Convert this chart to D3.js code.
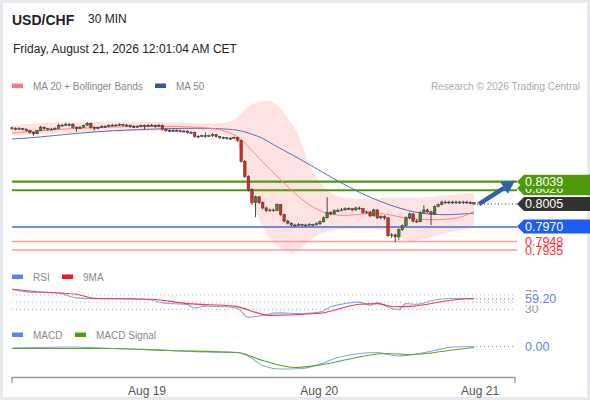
<!DOCTYPE html>
<html lang="en">
<head>
<meta charset="utf-8">
<title>USD/CHF 30 MIN</title>
<style>
  body { margin: 0; background: #fff; }
  svg { display: block; font-family: 'Liberation Sans', Arial, sans-serif; }
</style>
</head>
<body>
<div id="chart"></div>
<script src="https://d3js.org/d3.v7.min.js"></script>
<script>
// ---- candles (30 min) ----
var opens = [
  0.8121,0.8120,0.8119,0.8120,0.8119,0.8117,0.8114,0.8112,0.8117,0.8122,
  0.8120,0.8119,0.8119,0.8120,0.8125,0.8125,0.8126,0.8126,0.8122,0.8120,
  0.8122,0.8125,0.8128,0.8122,0.8120,0.8122,0.8123,0.8123,0.8125,0.8125,
  0.8125,0.8126,0.8125,0.8125,0.8123,0.8123,0.8123,0.8125,0.8123,0.8125,
  0.8125,0.8123,0.8125,0.8119,0.8117,0.8117,0.8117,0.8117,0.8116,0.8116,
  0.8114,0.8114,0.8108,0.8108,0.8109,0.8108,0.8109,0.8111,0.8108,0.8106,
  0.8106,0.8105,0.8105,0.8106,0.8102,0.8070,0.8047,0.8027,0.8007,0.8016,
  0.8007,0.7999,0.7995,0.7996,0.7995,0.8004,0.7989,0.7979,0.7976,0.7973,
  0.7973,0.7974,0.7973,0.7973,0.7974,0.7973,0.7975,0.7978,0.7984,0.7992,
  0.7990,0.7995,0.7995,0.7996,0.7998,0.7998,0.7996,0.7999,0.7998,0.7992,
  0.7993,0.7987,0.7996,0.7984,0.7986,0.7984,0.7957,0.7958,0.7955,0.7966,
  0.7972,0.7984,0.7990,0.7979,0.7978,0.7992,0.7996,0.7993,0.7990,0.8001,
  0.8004,0.8008,0.8007,0.8008,0.8007,0.8008,0.8007,0.8008,0.8007,0.8007];
var closes = [
  0.8120,0.8119,0.8120,0.8119,0.8117,0.8114,0.8112,0.8117,0.8122,0.8120,
  0.8119,0.8119,0.8120,0.8125,0.8125,0.8126,0.8126,0.8122,0.8120,0.8122,
  0.8125,0.8128,0.8122,0.8120,0.8122,0.8123,0.8123,0.8125,0.8125,0.8125,
  0.8126,0.8125,0.8125,0.8123,0.8123,0.8123,0.8125,0.8123,0.8125,0.8125,
  0.8123,0.8125,0.8119,0.8117,0.8117,0.8117,0.8117,0.8116,0.8116,0.8114,
  0.8114,0.8108,0.8108,0.8109,0.8108,0.8109,0.8111,0.8108,0.8106,0.8106,
  0.8105,0.8105,0.8106,0.8102,0.8070,0.8047,0.8027,0.8007,0.8016,0.8007,
  0.7999,0.7995,0.7996,0.7995,0.8004,0.7989,0.7979,0.7976,0.7973,0.7973,
  0.7974,0.7973,0.7973,0.7974,0.7973,0.7975,0.7978,0.7984,0.7992,0.7990,
  0.7995,0.7995,0.7996,0.7998,0.7998,0.7996,0.7999,0.7998,0.7992,0.7993,
  0.7987,0.7996,0.7984,0.7986,0.7984,0.7957,0.7958,0.7955,0.7966,0.7972,
  0.7984,0.7990,0.7979,0.7978,0.7992,0.7996,0.7993,0.7990,0.8001,0.8004,
  0.8008,0.8007,0.8008,0.8007,0.8008,0.8007,0.8008,0.8007,0.8007,0.8005];
var highs = [
  0.8123,0.8122,0.8122,0.8121,0.8120,0.8118,0.8115,0.8118,0.8124,0.8123,
  0.8121,0.8121,0.8122,0.8127,0.8127,0.8129,0.8128,0.8128,0.8123,0.8124,
  0.8126,0.8130,0.8129,0.8123,0.8123,0.8125,0.8125,0.8126,0.8127,0.8127,
  0.8128,0.8127,0.8127,0.8126,0.8125,0.8125,0.8126,0.8126,0.8127,0.8127,
  0.8126,0.8127,0.8126,0.8120,0.8119,0.8119,0.8119,0.8118,0.8118,0.8117,
  0.8116,0.8115,0.8110,0.8111,0.8114,0.8111,0.8113,0.8112,0.8109,0.8108,
  0.8107,0.8107,0.8108,0.8107,0.8103,0.8072,0.8049,0.8029,0.8018,0.8017,
  0.8009,0.8001,0.7998,0.7998,0.8006,0.8005,0.7990,0.7981,0.7977,0.7975,
  0.7976,0.7975,0.7975,0.7976,0.7975,0.7977,0.7980,0.7986,0.8015,0.7994,
  0.7997,0.7998,0.7999,0.8000,0.8000,0.7999,0.8001,0.8001,0.7999,0.7995,
  0.7994,0.7998,0.7997,0.7988,0.7988,0.7985,0.7961,0.7960,0.7968,0.7974,
  0.7986,0.7992,0.7991,0.7982,0.7994,0.8003,0.7998,0.7995,0.8003,0.8006,
  0.8010,0.8010,0.8010,0.8010,0.8010,0.8010,0.8010,0.8010,0.8009,0.8008];
var lows = [
  0.8118,0.8117,0.8118,0.8117,0.8115,0.8112,0.8109,0.8111,0.8116,0.8118,
  0.8117,0.8117,0.8118,0.8119,0.8123,0.8124,0.8124,0.8120,0.8115,0.8119,
  0.8121,0.8124,0.8120,0.8117,0.8119,0.8121,0.8121,0.8122,0.8123,0.8124,
  0.8124,0.8123,0.8123,0.8121,0.8121,0.8122,0.8122,0.8119,0.8122,0.8124,
  0.8121,0.8122,0.8117,0.8115,0.8115,0.8115,0.8116,0.8114,0.8114,0.8112,
  0.8112,0.8106,0.8106,0.8107,0.8106,0.8107,0.8107,0.8106,0.8104,0.8104,
  0.8103,0.8103,0.8104,0.8100,0.8068,0.8045,0.8024,0.8004,0.7985,0.8005,
  0.7997,0.7993,0.7993,0.7993,0.7994,0.7987,0.7977,0.7974,0.7971,0.7971,
  0.7972,0.7971,0.7971,0.7972,0.7971,0.7973,0.7973,0.7977,0.7983,0.7988,
  0.7989,0.7993,0.7994,0.7995,0.7996,0.7994,0.7995,0.7996,0.7990,0.7990,
  0.7985,0.7986,0.7982,0.7982,0.7981,0.7955,0.7953,0.7947,0.7950,0.7964,
  0.7971,0.7982,0.7977,0.7976,0.7977,0.7991,0.7991,0.7973,0.7989,0.8000,
  0.8003,0.8005,0.8005,0.8005,0.8005,0.8005,0.8005,0.8005,0.8005,0.8004];

// ---- overlays (sampled at candle indices) ----
var bandIdx   = [0,13,25,41,53,61,64,66,70,73,75,78,80,83,87,92,97,103,108,111,114,117,122,129];
var bandUpper = [0.8125,0.8130,0.8131,0.8130,0.8128,0.8127,0.8141,0.8156,0.8163,0.8162,0.8151,0.8128,
                 0.8113,0.8061,0.8026,0.8013,0.8013,0.8014,0.8014,0.8014,0.8014,0.8016,0.8019,0.8022];
var bandLower = [0.8109,0.8113,0.8115,0.8116,0.8115,0.8112,0.8090,0.8026,0.7965,0.7947,0.7938,0.7927,
                 0.7935,0.7950,0.7964,0.7967,0.7968,0.7968,0.7955,0.7947,0.7950,0.7955,0.7962,0.7970];
var ma20Idx = [0,13,25,41,53,58,63,66,70,75,80,84,89,94,99,104,108,114,121,126,129];
var ma20    = [0.8113,0.8119,0.8122,0.8124,0.8122,0.8119,0.8110,0.8092,0.8069,0.8042,0.8016,
               0.7999,0.7988,0.7987,0.7991,0.7991,0.7985,0.7981,0.7981,0.7985,0.7994];
var ma50Idx = [0,6,13,25,38,52,62,65,70,72,80,89,98,107,114,121,129];
var ma50    = [0.8104,0.8106,0.8110,0.8116,0.8119,0.8121,0.8119,0.8115,0.8106,0.8098,0.8075,
               0.8046,0.8019,0.8000,0.7990,0.7988,0.7991];

// ---- levels ----
var supportRes = [0.8039, 0.8026, 0.7970, 0.7948, 0.7935];
var lastPrice = 0.8005;

// ---- RSI ----
var rsiIdx = [0,5,12,18,22,28,39,42,49,51,54,60,63,66,70,74,81,86,89,93,97,100,102,106,108,110,113,118,123,129];
var rsi    = [86,78,77,62,60,60,56,48,43,34,39,37,32,8,13,20,18,22,37,46,50,41,48,32,29,46,44,56,61,59.2];
var rsiMaIdx = [0,7,18,23,39,49,62,72,86,97,102,107,112,123,129];
var rsiMa    = [86,79,72,61,58,46,39,13,19,44,46,37,39,56,60];
var rsiGrid  = [70, 50, 30];

// ---- MACD ----
var macdIdx = [0,16,28,44,54,63,66,70,75,81,86,91,97,102,105,108,112,118,123,129];
var macd    = [-0.0002,0.0000,-0.0003,-0.0007,-0.0010,-0.0011,-0.0018,-0.0037,-0.0044,-0.0043,
               -0.0034,-0.0021,-0.0013,-0.0011,-0.0015,-0.0018,-0.0015,-0.0007,0.0000,0.0001];
var signalIdx = [0,28,44,63,70,79,86,97,104,112,123,129];
var signal    = [-0.0003,-0.0003,-0.0007,-0.0011,-0.0027,-0.0041,-0.0036,-0.0020,-0.0013,-0.0015,-0.0006,-0.0001];

// ---- time axis ----
var tickLabels = ["Aug 19", "Aug 20", "Aug 21"];
var tickIdx = [37.7, 85.8, 130.7];

var W = 590, H = 400;
var svg = d3.select("#chart").append("svg").attr("width", W).attr("height", H);

svg.append("rect").attr("x", 1.5).attr("y", 1.5).attr("width", W - 3).attr("height", H - 3)
  .attr("fill", "#fff").attr("stroke", "#e6eaee").attr("stroke-width", 3);

var x = d3.scaleLinear().domain([0, 129]).range([12, 474]);
var y = d3.scaleLinear().domain([0.7935, 0.8039]).range([250, 181.7]);
var yRsi = d3.scaleLinear().domain([30, 70]).range([309.3, 295]);
var yMacd = d3.scaleLinear().domain([-0.0044, 0]).range([369, 347]);
var xEnd = 517;

// header
svg.append("text").attr("x", 12).attr("y", 24.5).attr("font-size", 14).attr("font-weight", "bold")
  .attr("fill", "#222").text("USD/CHF");
svg.append("text").attr("x", 88).attr("y", 23).attr("font-size", 12).attr("fill", "#222").text("30 MIN");
svg.append("text").attr("x", 13).attr("y", 52.5).attr("font-size", 12).attr("fill", "#222")
  .text("Friday, August 21, 2026 12:01:04 AM CET");

function legend(items, yy) {
  items.forEach(function(it) {
    svg.append("rect").attr("x", it.x).attr("y", yy - 2.5).attr("width", 11).attr("height", 4.5).attr("fill", it.color);
    svg.append("text").attr("x", it.x + 21).attr("y", yy + 3.5).attr("font-size", 10).attr("fill", "#888").text(it.label);
  });
}
legend([{x: 12, color: "#ff7b7b", label: "MA 20 + Bollinger Bands"}, {x: 155, color: "#2f5a9c", label: "MA 50"}], 86);
svg.append("text").attr("x", 580).attr("y", 89.5).attr("text-anchor", "end").attr("font-size", 10)
  .attr("fill", "#aaa").text("Research \u00a9 2026 Trading Central");

// bollinger band
var bandData = bandIdx.map(function(d, i) { return {i: d, hi: bandUpper[i], lo: bandLower[i]}; });
svg.append("path").datum(bandData)
  .attr("d", d3.area().curve(d3.curveBasis)
    .x(function(d) { return x(d.i); }).y0(function(d) { return y(d.lo); }).y1(function(d) { return y(d.hi); }))
  .attr("fill", "#ffd6d6").attr("fill-opacity", 0.7);

// levels
var levelStyle = {
  0.8039: {color: "#4f9a0a", width: 2.2},
  0.8026: {color: "#4f9a0a", width: 2.2},
  0.7970: {color: "#3d6fd6", width: 1.3},
  0.7948: {color: "#ff9a9a", width: 1.5},
  0.7935: {color: "#ff9a9a", width: 1.5}
};
svg.selectAll("line.level").data(supportRes).enter().append("line").attr("class", "level")
  .attr("x1", 12).attr("x2", xEnd)
  .attr("y1", function(d) { return y(d); }).attr("y2", function(d) { return y(d); })
  .attr("stroke", function(d) { return levelStyle[d].color; })
  .attr("stroke-width", function(d) { return levelStyle[d].width; });

// moving averages
var line = d3.line().curve(d3.curveBasis).x(function(d) { return x(d[0]); }).y(function(d) { return y(d[1]); });
svg.append("path").attr("d", line(ma50Idx.map(function(d, i) { return [d, ma50[i]]; })))
  .attr("fill", "none").attr("stroke", "#4a72b8").attr("stroke-width", 1);
svg.append("path").attr("d", line(ma20Idx.map(function(d, i) { return [d, ma20[i]]; })))
  .attr("fill", "none").attr("stroke", "#ff8585").attr("stroke-width", 1);

// candles
var candles = closes.map(function(c, i) { return {i: i, o: opens[i], h: highs[i], l: lows[i], c: c}; });
var cg = svg.append("g");
cg.selectAll("line").data(candles).enter().append("line")
  .attr("x1", function(d) { return x(d.i); }).attr("x2", function(d) { return x(d.i); })
  .attr("y1", function(d) { return y(d.h); }).attr("y2", function(d) { return y(d.l); })
  .attr("stroke", "#333").attr("stroke-width", 0.9);
cg.selectAll("rect").data(candles).enter().append("rect")
  .attr("x", function(d) { return x(d.i) - 1.3; })
  .attr("y", function(d) { return y(Math.max(d.o, d.c)); })
  .attr("width", 2.6)
  .attr("height", function(d) { return Math.max(0.8, Math.abs(y(d.o) - y(d.c))); })
  .attr("fill", function(d) { return d.c > d.o ? "#3b8a22" : (d.c < d.o ? "#e0261f" : "#333"); })
  .attr("stroke", "#3a3a3a").attr("stroke-width", 0.5);

// last price dotted line
svg.append("line").attr("x1", x(129) + 3).attr("x2", xEnd).attr("y1", y(lastPrice)).attr("y2", y(lastPrice))
  .attr("stroke", "#333").attr("stroke-width", 1).attr("stroke-dasharray", "1,2.5");

// forecast arrow
(function() {
  var sx = x(129) + 5, sy = y(lastPrice), tx = xEnd - 2, ty = y(0.8039) - 1;
  var dx = tx - sx, dy = ty - sy, len = Math.sqrt(dx * dx + dy * dy);
  var ux = dx / len, uy = dy / len, nx = -uy, ny = ux;
  var bx = tx - 13 * ux, by = ty - 13 * uy;
  svg.append("line").attr("x1", sx).attr("y1", sy).attr("x2", bx).attr("y2", by)
    .attr("stroke", "#2f62a8").attr("stroke-width", 4.5);
  svg.append("polygon").attr("fill", "#2f62a8")
    .attr("points", [[tx, ty], [bx + 7 * nx, by + 7 * ny], [bx - 7 * nx, by - 7 * ny]].join(" "));
})();

// price labels
function tagBox(val, color, cy) {
  var h = 14, x0 = xEnd;
  svg.append("path").attr("fill", color)
    .attr("d", "M" + x0 + "," + cy + "L" + (x0 + 7) + "," + (cy - h / 2) + "L" + W + "," + (cy - h / 2) +
               "L" + W + "," + (cy + h / 2) + "L" + (x0 + 7) + "," + (cy + h / 2) + "Z");
  svg.append("text").attr("x", 525).attr("y", cy + 4.3).attr("font-size", 12.5).attr("fill", "#fff")
    .text(d3.format(".4f")(val));
}
function tagText(val, color) {
  svg.append("text").attr("x", 525).attr("y", y(val) + 4.5).attr("font-size", 12.5).attr("fill", color)
    .text(d3.format(".4f")(val));
}
tagText(0.7935, "#ff2b2b");
tagText(0.7948, "#ff2b2b");
svg.append("rect").attr("x", 519).attr("y", y(0.7970) - 7).attr("width", 70).attr("height", 11).attr("fill", "#fff");
tagBox(0.7970, "#1d5df5", y(0.7970) - 0.5);
tagBox(lastPrice, "#333", y(lastPrice));
tagBox(0.8026, "#4f9a0a", y(0.8026) - 2);
tagBox(0.8039, "#4f9a0a", y(0.8039));

// RSI panel
legend([{x: 12, color: "#5b85e8", label: "RSI"}, {x: 62, color: "#f01818", label: "9MA"}], 277);
svg.selectAll("line.rgrid").data(rsiGrid).enter().append("line").attr("class", "rgrid")
  .attr("x1", 12).attr("x2", 515).attr("y1", function(d) { return yRsi(d); }).attr("y2", function(d) { return yRsi(d); })
  .attr("stroke", "#999").attr("stroke-width", 0.8).attr("stroke-dasharray", "1,3");
var rLine = d3.line().curve(d3.curveMonotoneX).x(function(d) { return x(d[0]); }).y(function(d) { return yRsi(d[1]); });
svg.append("path").attr("d", rLine(rsiIdx.map(function(d, i) { return [d, rsi[i]]; })))
  .attr("fill", "none").attr("stroke", "#86a3ee").attr("stroke-width", 1.1);
svg.append("path").attr("d", rLine(rsiMaIdx.map(function(d, i) { return [d, rsiMa[i]]; })))
  .attr("fill", "none").attr("stroke", "#f53a3a").attr("stroke-width", 1.1);
var rsiLast = rsi[rsi.length - 1];
svg.append("line").attr("x1", x(129) + 2).attr("x2", 515).attr("y1", yRsi(rsiLast)).attr("y2", yRsi(rsiLast))
  .attr("stroke", "#5b85e8").attr("stroke-width", 1).attr("stroke-dasharray", "1,3");
svg.append("text").attr("x", 525).attr("y", yRsi(70) + 4).attr("font-size", 12).attr("fill", "#999").text("70");
svg.append("text").attr("x", 525).attr("y", yRsi(30) + 4).attr("font-size", 12).attr("fill", "#999").text("30");
svg.append("rect").attr("x", 520).attr("y", yRsi(rsiLast) - 6.5).attr("width", 50).attr("height", 13).attr("fill", "#fff");
svg.append("text").attr("x", 525).attr("y", yRsi(rsiLast) + 4.3).attr("font-size", 12.5).attr("fill", "#5b85e8")
  .text(d3.format(".2f")(rsiLast));

// MACD panel
legend([{x: 12, color: "#5b85e8", label: "MACD"}, {x: 75, color: "#4aa012", label: "MACD Signal"}], 335);
var mLine = d3.line().curve(d3.curveMonotoneX).x(function(d) { return x(d[0]); }).y(function(d) { return yMacd(d[1]); });
svg.append("path").attr("d", mLine(macdIdx.map(function(d, i) { return [d, macd[i]]; })))
  .attr("fill", "none").attr("stroke", "#86a3ee").attr("stroke-width", 1.1);
svg.append("path").attr("d", mLine(signalIdx.map(function(d, i) { return [d, signal[i]]; })))
  .attr("fill", "none").attr("stroke", "#5aa820").attr("stroke-width", 1.1);
var macdLast = macd[macd.length - 1];
svg.append("line").attr("x1", x(129) + 2).attr("x2", 515).attr("y1", yMacd(macdLast)).attr("y2", yMacd(macdLast))
  .attr("stroke", "#5b85e8").attr("stroke-width", 1).attr("stroke-dasharray", "1,3");
svg.append("text").attr("x", 525).attr("y", yMacd(macdLast) + 4.3).attr("font-size", 12.5).attr("fill", "#5b85e8")
  .text(d3.format(".2f")(macdLast));

// time axis
svg.append("path").attr("d", "M12,383V377.5H515V383").attr("fill", "none").attr("stroke", "#999").attr("stroke-width", 1.3);
svg.selectAll("text.tick").data(tickLabels).enter().append("text").attr("class", "tick")
  .attr("x", function(d, i) { return x(tickIdx[i]); }).attr("y", 395)
  .attr("text-anchor", "middle").attr("font-size", 12).attr("fill", "#555").text(function(d) { return d; });
</script>
</body>
</html>
